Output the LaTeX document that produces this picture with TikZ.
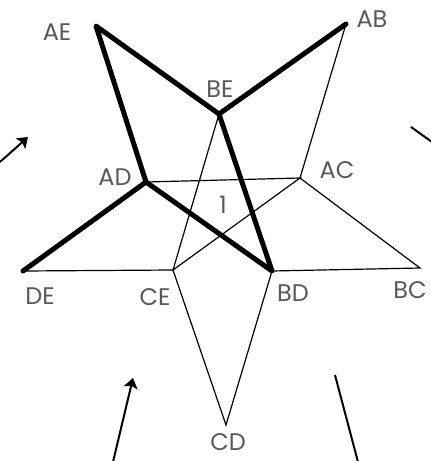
\documentclass[tikz,border=0pt]{standalone}
\usepackage{fontspec}
\setmainfont{Poppins}
\usetikzlibrary{arrows.meta}
\begin{document}
\begin{tikzpicture}[x=1pt,y=-1pt,>={Stealth[length=10pt,width=14pt,inset=2pt]},
  lbl/.style={font=\fontsize{24}{24}\selectfont,text=black!65,inner sep=0pt},
  thinedge/.style={line width=1.2pt},
  pathedge/.style={line width=5pt,line cap=round,line join=round},
  hint/.style={line width=2pt}]
  \useasboundingbox (0,0) rectangle (431,461);
  % vertices of the star
  \coordinate (AE) at (96,26);   \coordinate (AB) at (346,24);
  \coordinate (BE) at (219,114); \coordinate (AC) at (300,178);
  \coordinate (AD) at (146,182); \coordinate (DE) at (23,271);
  \coordinate (CE) at (173,270); \coordinate (BD) at (272,271);
  \coordinate (BC) at (420,268); \coordinate (CD) at (226,425);
  % thin edges
  \draw[thinedge] (AB)--(AC)--(BC)--(BD)--(CD)--(CE)--(DE);
  \draw[thinedge] (AD)--(AC)--(CE)--(BE);
  % thick path
  \draw[pathedge] (AB)--(BE)--(AE)--(AD)--(DE);
  \draw[pathedge] (AD)--(BD)--(BE);
  % labels
  \node[lbl] (lAE) at (57,32) {AE};
  \node[lbl] (lAB) at (372,19) {AB};
  \node[lbl] (lBE) at (220,89) {BE};
  \node[lbl] (lAC) at (337,170) {AC};
  \node[lbl] (lAD) at (115,177) {AD};
  \node[lbl] (one) at (223,205) {1};
  \node[lbl] (lDE) at (40,296) {DE};
  \node[lbl] (lCE) at (155,297) {CE};
  \node[lbl] (lBD) at (293,293) {BD};
  \node[lbl] (lBC) at (410,290) {BC};
  \node[lbl] (lCD) at (228,442) {CD};
  % side arrows
  \coordinate (l0) at (0,162);   \coordinate (l1) at (28,137);
  \coordinate (r0) at (411,127); \coordinate (r1) at (432,142);
  \coordinate (b0) at (113,462); \coordinate (b1) at (133,378);
  \coordinate (c0) at (335,375); \coordinate (c1) at (358,462);
  \draw[hint,->] (l0)--(l1);
  \draw[hint] (r0)--(r1);
  \draw[hint,->] (b0)--(b1);
  \draw[hint] (c0)--(c1);
\end{tikzpicture}
\end{document}
